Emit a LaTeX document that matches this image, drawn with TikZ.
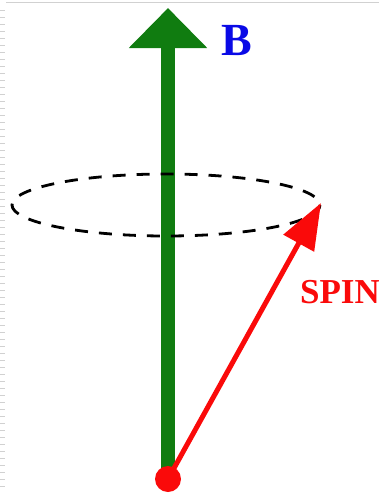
\documentclass[tikz,border=0pt]{standalone}
\usepackage{fontspec}
\setmainfont{Liberation Serif}
\usetikzlibrary{arrows.meta}
\definecolor{fieldgreen}{RGB}{16,124,16}
\definecolor{fieldblue}{RGB}{10,10,230}
\definecolor{spinred}{RGB}{250,10,10}
\tikzset{
  fieldarrow/.style={draw=fieldgreen, line width=14pt, -{Triangle[width=76pt,length=40pt]}, fill=fieldgreen},
  spinarrow/.style={draw=spinred, line width=5pt, line cap=round, -{Triangle[width=34pt,length=46pt]}, fill=spinred},
  orbit/.style={draw=black, line width=2.8pt, dash pattern=on 13pt off 11pt},
  labeltext/.style={font=\bfseries, inner sep=0pt},
  frameline/.style={draw=black!18, line width=0.8pt}
}
\begin{document}
\begin{tikzpicture}[x=1pt,y=-1pt]
  \useasboundingbox (0,0) rectangle (379,496);
  % faint slide frame
  \draw[frameline] (6,2) -- (379,2);
  \foreach \yy in {10,17,...,490} \draw[frameline] (0,\yy) -- (5,\yy);
  % named points
  \coordinate (origin) at (168,479);
  \coordinate (btip) at (168,8);
  \coordinate (ecenter) at (166,205);
  \coordinate (stip) at (321,203);
  % B field arrow
  \draw[fieldarrow] (origin) -- (btip);
  \node[labeltext, text=fieldblue, font=\fontsize{46}{46}\selectfont\bfseries] (B) at (237,41) {B};
  % dashed precession orbit (drawn over the field arrow)
  \draw[orbit] (ecenter) ellipse [x radius=154, y radius=31];
  % spin arrow
  \draw[spinarrow] (origin) -- (stip);
  \fill[spinred] (origin) circle [radius=13];
  \node[labeltext, text=spinred, font=\fontsize{35}{35}\selectfont\bfseries, anchor=east] (spin) at (380,292) {SPIN};
\end{tikzpicture}
\end{document}
